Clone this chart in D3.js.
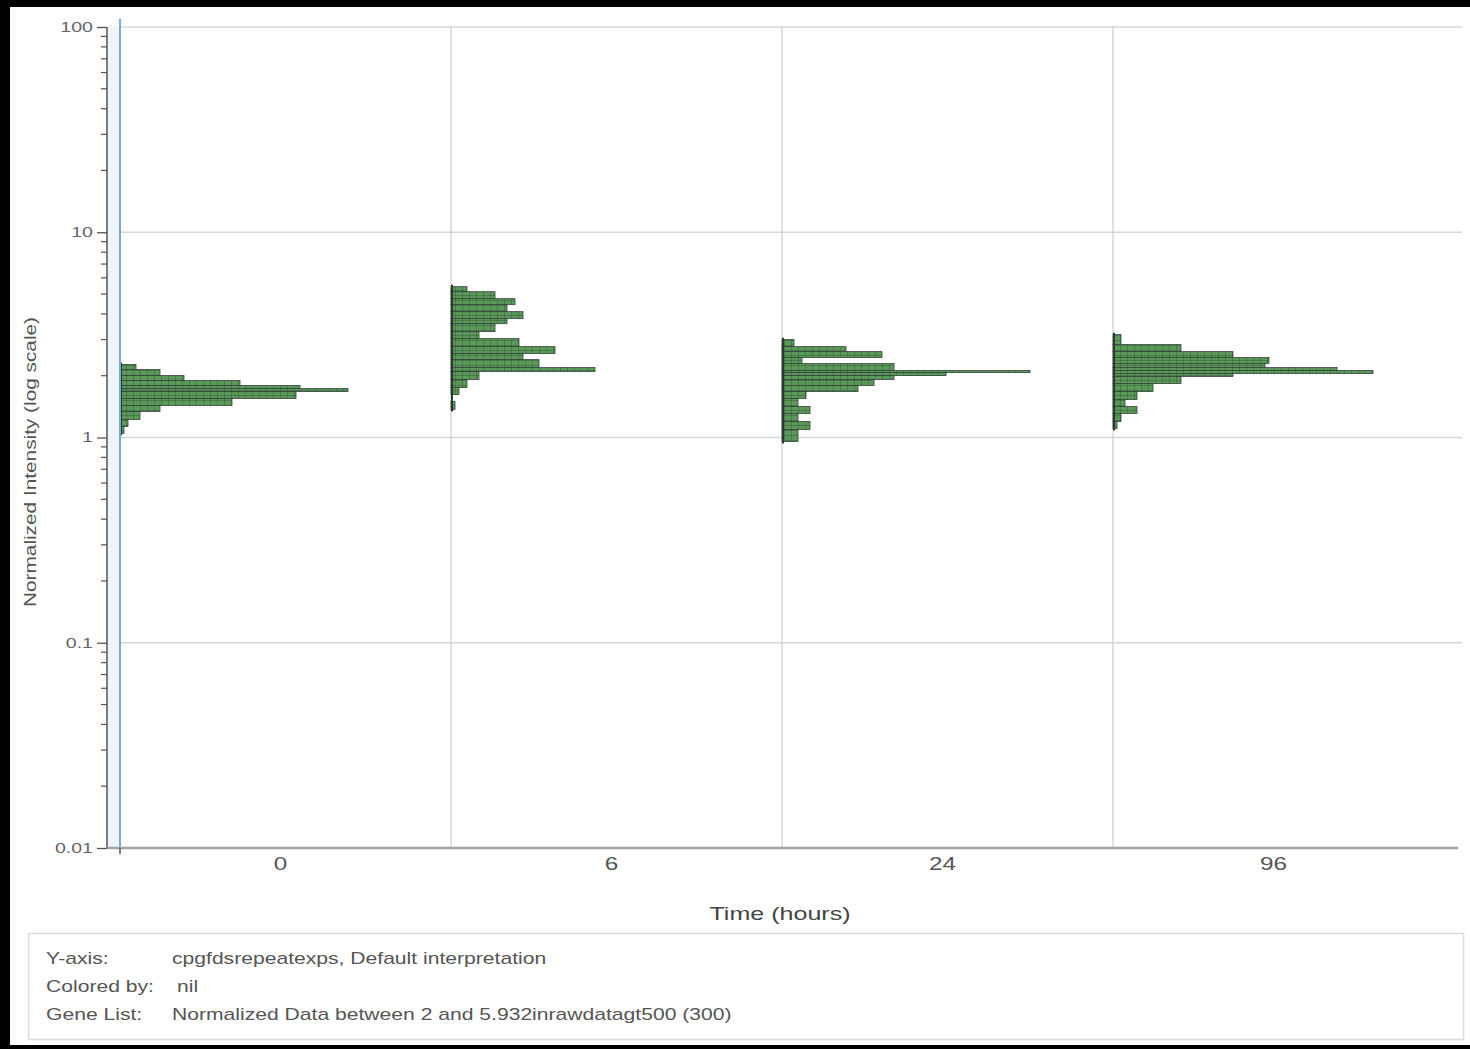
<!DOCTYPE html>
<html>
<head>
<meta charset="utf-8">
<script src="https://cdn.jsdelivr.net/npm/d3@7"></script>
<style>
  html, body { margin: 0; padding: 0; background: #000; }
  svg { display: block; font-family: "Liberation Sans", Arial, sans-serif; }
</style>
</head>
<body>
<svg id="chart" width="1470" height="1049"></svg>
<script>
// Time points (hours)
const categories = ["0", "6", "24", "96"];

// Horizontal histograms of normalized intensity per time point: [low, high, gene count]
const hist0 = [
  [2.142, 2.266, 4], [2.003, 2.142, 10], [1.894, 2.003, 16], [1.791, 1.894, 30],
  [1.731, 1.791, 45], [1.674, 1.731, 57], [1.548, 1.674, 44], [1.431, 1.548, 28],
  [1.338, 1.431, 10], [1.224, 1.338, 5], [1.131, 1.224, 2], [1.046, 1.131, 1]
];
const hist6 = [
  [5.134, 5.430, 4], [4.747, 5.134, 11], [4.439, 4.747, 16], [4.104, 4.439, 14],
  [3.794, 4.104, 18], [3.586, 3.794, 14], [3.280, 3.586, 11], [3.032, 3.280, 7],
  [2.772, 3.032, 17], [2.563, 2.772, 26], [2.396, 2.563, 18], [2.191, 2.396, 22],
  [2.095, 2.191, 36], [1.915, 2.095, 7], [1.751, 1.915, 4], [1.619, 1.751, 2],
  [1.369, 1.497, 1]
];
const hist24 = [
  [2.772, 2.998, 3], [2.621, 2.772, 16], [2.451, 2.621, 25], [2.292, 2.451, 5],
  [2.119, 2.292, 28], [2.072, 2.119, 62], [2.003, 2.072, 41], [1.915, 2.003, 28],
  [1.791, 1.915, 23], [1.674, 1.791, 19], [1.548, 1.674, 6], [1.415, 1.548, 4],
  [1.309, 1.415, 7], [1.196, 1.309, 4], [1.094, 1.196, 7], [0.956, 1.094, 4]
];
const hist96 = [
  [2.835, 3.171, 2], [2.621, 2.835, 17], [2.451, 2.621, 30], [2.292, 2.451, 39],
  [2.191, 2.292, 38], [2.119, 2.191, 56], [2.048, 2.119, 65], [1.981, 2.048, 30],
  [1.832, 1.981, 17], [1.674, 1.832, 10], [1.531, 1.674, 6], [1.415, 1.531, 3],
  [1.309, 1.415, 6], [1.196, 1.309, 2], [1.106, 1.196, 1]
];
const histograms = [hist0, hist6, hist24, hist96];

// Y-axis tick labels
const yTicks = [0.01, 0.1, 1, 10, 100];
const yTickLabels = ["0.01", "0.1", "1", "10", "100"];

// Legend text
const legendKeys = ["Y-axis:", "Colored by:", "Gene List:"];
const legendValues = [
  "cpgfdsrepeatexps, Default interpretation",
  "nil",
  "Normalized Data between 2 and 5.932inrawdatagt500 (300)"
];

const svg = d3.select("#chart");
const FONT = "Liberation Sans, Arial, sans-serif";
const WIDE = 1.32; // horizontal stretch of the screen font

// page panel
svg.append("rect").attr("x", 10).attr("y", 7).attr("width", 1460).attr("height", 1038).attr("fill", "#fff");

const axisX = 107, plotLeft = 120, plotRight = 1462, plotTop = 27, plotBottom = 848;

const y = d3.scaleLog().domain([0.01, 100]).range([plotBottom, plotTop]);
const x = d3.scaleBand().domain(categories).range([plotLeft, 1444]).paddingInner(0).paddingOuter(0);
const w = d3.scaleLinear().domain([0, 83]).range([0, 332]);

const defs = svg.append("defs");
const pat = defs.append("pattern").attr("id", "cells").attr("patternUnits", "userSpaceOnUse")
  .attr("width", 7).attr("height", 5);
pat.append("rect").attr("width", 7).attr("height", 5).attr("fill", "#5a995a");
pat.append("path").attr("d", "M0,0H7M0,0V5").attr("stroke", "#2f4a30").attr("stroke-width", 1).attr("opacity", 0.8);

// light band between axis and plot area
svg.append("rect").attr("x", axisX).attr("y", plotTop).attr("width", plotLeft - axisX)
  .attr("height", plotBottom - plotTop).attr("fill", "#edf5fb");

// horizontal grid
svg.append("g").selectAll("line").data(yTicks.filter(d => d > 0.01)).join("line")
  .attr("x1", plotLeft).attr("x2", plotRight)
  .attr("y1", d => y(d)).attr("y2", d => y(d))
  .attr("stroke", "#d4d8dc").attr("stroke-width", 1.5);

// vertical grid at category boundaries
svg.append("g").selectAll("line").data(categories.slice(1)).join("line")
  .attr("x1", d => x(d)).attr("x2", d => x(d))
  .attr("y1", plotTop).attr("y2", plotBottom)
  .attr("stroke", "#c9cdd1").attr("stroke-width", 1.2);

// histograms
categories.forEach((c, i) => {
  const x0 = x(c);
  const g = svg.append("g");
  g.selectAll("rect").data(histograms[i]).join("rect")
    .attr("x", x0)
    .attr("y", d => y(d[1]))
    .attr("width", d => w(d[2]))
    .attr("height", d => Math.max(1.5, y(d[0]) - y(d[1])))
    .attr("fill", "url(#cells)")
    .attr("stroke", "#34443a")
    .attr("stroke-width", 0.8);
  const ext = d3.extent(histograms[i].flatMap(d => [d[0], d[1]]));
  g.append("line").attr("x1", x0 + 1).attr("x2", x0 + 1)
    .attr("y1", y(ext[1]) - 2).attr("y2", y(ext[0]) + 2)
    .attr("stroke", "#2c3a2e").attr("stroke-width", 2);
});

// blue boundary line of plot area
svg.append("line").attr("x1", plotLeft).attr("x2", plotLeft).attr("y1", plotTop - 8).attr("y2", plotBottom)
  .attr("stroke", "#7aa9d4").attr("stroke-width", 2);

// y axis
const yAxis = d3.axisLeft(y)
  .tickValues(yTicks)
  .tickFormat((d, i) => yTickLabels[i])
  .tickSize(10).tickPadding(0);
const yg = svg.append("g").attr("transform", `translate(${axisX},0)`).call(yAxis);
yg.select(".domain").attr("stroke", "#555").attr("stroke-width", 1.5).attr("d", `M0,${plotTop}V${plotBottom}`);
yg.selectAll(".tick line").attr("stroke", "#555").attr("stroke-width", 1.3);
yg.selectAll(".tick text").attr("fill", "#666").attr("font-size", 14).attr("font-family", FONT)
  .attr("x", -10).attr("transform", "scale(1.4,1)");

// minor ticks
const minor = [];
for (let e = -2; e < 2; e++) for (let m = 2; m <= 9; m++) minor.push(m * Math.pow(10, e));
svg.append("g").selectAll("line").data(minor).join("line")
  .attr("x1", axisX - 6).attr("x2", axisX)
  .attr("y1", d => y(d)).attr("y2", d => y(d))
  .attr("stroke", "#555").attr("stroke-width", 1.2);

// x axis
const xAxis = d3.axisBottom(x).tickSize(0).tickPadding(9);
const xg = svg.append("g").attr("transform", `translate(0,${plotBottom})`).call(xAxis);
xg.select(".domain").attr("stroke", "#a0a4a8").attr("stroke-width", 2.5).attr("d", `M${axisX},0H${plotRight - 4}`);
xg.selectAll(".tick text").attr("fill", "#555").attr("font-size", 18).attr("font-family", FONT)
  .attr("transform", "translate(-5,0) scale(1.35,1)");
svg.append("line").attr("x1", plotLeft).attr("x2", plotLeft).attr("y1", plotBottom).attr("y2", plotBottom + 6)
  .attr("stroke", "#555").attr("stroke-width", 1.5);

// axis titles
svg.append("text").attr("transform", `translate(780,920) scale(${WIDE},1)`).attr("text-anchor", "middle")
  .attr("font-size", 19).attr("fill", "#444").text("Time (hours)");
svg.append("text").attr("transform", "translate(36,462) rotate(-90) scale(1.3,1)").attr("text-anchor", "middle")
  .attr("font-size", 16).attr("fill", "#555").text("Normalized Intensity (log scale)");

// legend box
svg.append("rect").attr("x", 28.5).attr("y", 933.5).attr("width", 1435).attr("height", 106)
  .attr("fill", "none").attr("stroke", "#dcdcdc").attr("stroke-width", 1.5);
const lg = svg.append("g").attr("font-size", 16).attr("fill", "#555");
legendKeys.forEach((k, i) => {
  lg.append("text").attr("transform", `translate(46,${964 + i * 28}) scale(${WIDE},1)`).text(k);
  lg.append("text").attr("transform", `translate(${i === 1 ? 177 : 172},${964 + i * 28}) scale(${WIDE},1)`).text(legendValues[i]);
});
</script>
</body>
</html>
